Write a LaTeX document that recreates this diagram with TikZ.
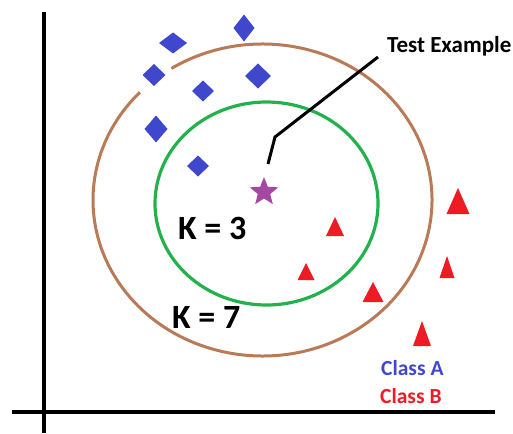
\documentclass[tikz,border=0pt]{standalone}
\usepackage{fontspec}
\usetikzlibrary{shapes.geometric}
\setmainfont{Carlito}
\definecolor{dcol}{HTML}{3F48CC}
\definecolor{tcol}{HTML}{ED1C24}
\definecolor{scol}{HTML}{A349A4}
\definecolor{gcol}{HTML}{22B14C}
\definecolor{bcol}{HTML}{B97A57}
\newcommand\mydia[4]{\fill[dcol] ({#1-#3/2},#2) -- (#1,{#2-#4/2}) -- ({#1+#3/2},#2) -- (#1,{#2+#4/2}) -- cycle;}
\newcommand\mytri[4]{\fill[tcol] ({#1-#3/2},#2) -- ({#1+#3/2},#2) -- (#1,{#2-#4}) -- cycle;}
\begin{document}
\begin{tikzpicture}[x=1pt,y=-1pt,
  lbl/.style={inner sep=0pt,font=\bfseries},
  kfont/.style={lbl,font=\fontsize{34}{40}\selectfont\bfseries},
  cfont/.style={lbl,font=\fontsize{21.5}{26}\selectfont\bfseries},
  axis/.style={line width=3.5pt,black}]
\useasboundingbox (0,0) rectangle (513,433);
% axes
\draw[axis] (44,12) -- (44,433);
\draw[axis] (12,412) -- (495,412);
% circles
\draw[bcol,line width=3pt] (262.5,200) ++(-122.5:169.5 and 156) arc[start angle=-122.5,end angle=223.7,x radius=169.5,y radius=156];
\draw[gcol,line width=3.2pt] (266.5,203.5) ellipse [x radius=111.5,y radius=101.5];
% diamonds
\mydia{173}{43}{28}{21}
\mydia{244}{28}{21}{27}
\mydia{154}{75}{23}{22}
\mydia{203}{91}{22}{21}
\mydia{258}{76}{26}{25}
\mydia{156}{129}{23}{27}
\mydia{198}{166}{22}{21}
% triangles
\mytri{458}{214}{23}{26}
\mytri{335}{236}{18}{19}
\mytri{306}{280}{17}{17}
\mytri{373}{302}{21}{20}
\mytri{447}{278}{15}{22}
\mytri{422}{346}{18}{25}
% star
\node[star,star points=5,star point ratio=2.3,fill=scol,inner sep=0pt,minimum size=30pt] (s) at (264,192) {};
% labels
\node[lbl,anchor=base west,font=\fontsize{23}{28}\selectfont\bfseries] (te) at (387,53) {Test Example};
\node[kfont,anchor=base west] (k3) at (178,239) {K = 3};
\node[kfont,anchor=base west] (k7) at (172,328) {K = 7};
\node[cfont,anchor=base west,text=dcol] (ca) at (381,375) {Class A};
\node[cfont,anchor=base west,text=tcol] (cb) at (380,403) {Class B};
% pointer
\coordinate (p0) at (378,57);
\coordinate (p1) at (275,137);
\coordinate (p2) at (268,164);
\draw[black,line width=3pt] (p0) -- (p1) -- (p2);
\end{tikzpicture}
\end{document}
